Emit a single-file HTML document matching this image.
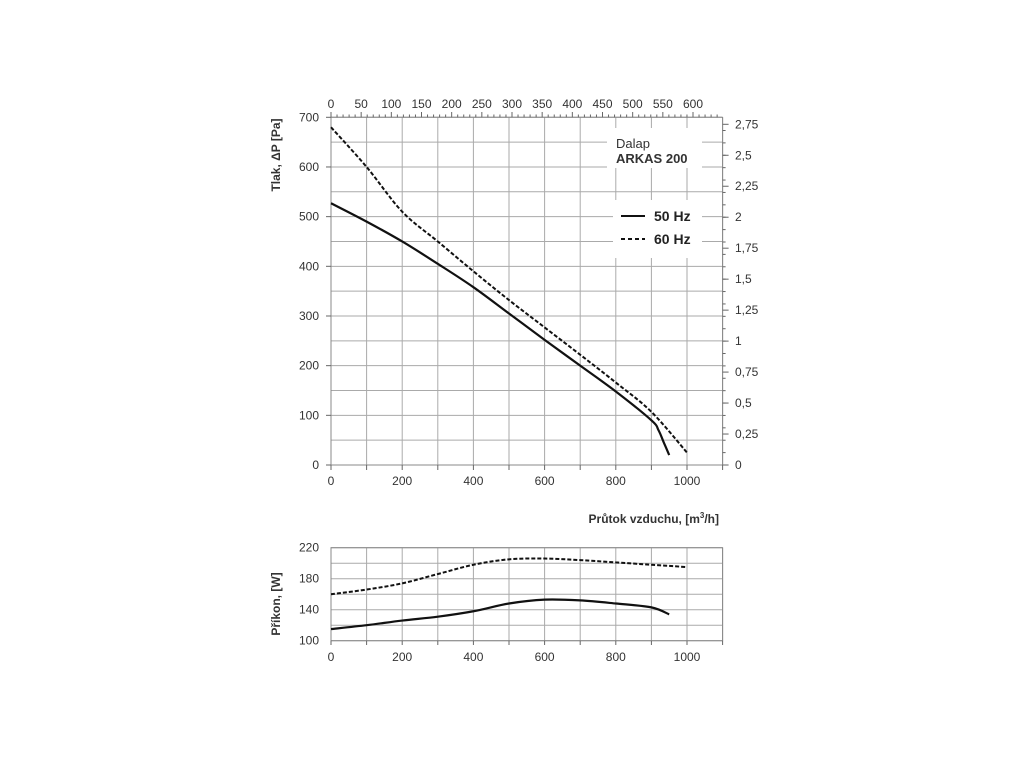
<!DOCTYPE html>
<html><head><meta charset="utf-8"><style>
body{margin:0;background:#fff;width:1024px;height:768px;overflow:hidden}
svg text{font-family:"Liberation Sans",Arial,sans-serif;fill:#333}
</style></head><body>
<svg id="c" width="1024" height="768" xmlns="http://www.w3.org/2000/svg"></svg>
<script>
const flow50 = [0,100,200,300,400,500,600,700,800,900,920,935,950];
const press50 = [527,490,450,405,358,305,252,200,148,90,70,45,20];
const flow60 = [0,100,200,300,400,500,600,700,800,900,1000];
const press60 = [680,600,510,450,390,332,277,222,166,107,25];
const pflow50 = [0,100,200,300,400,500,600,700,800,900,950];
const power50 = [115,120,126,131,138,148,153,152,148,143,134];
const pflow60 = [0,100,200,300,400,500,600,700,800,900,1000];
const power60 = [160,166,174,186,198,205,206,204,201,198,195];
const xTicks = [0,200,400,600,800,1000];
const pTicks = [0,100,200,300,400,500,600,700];
const topTicks = [0,50,100,150,200,250,300,350,400,450,500,550,600];
const rightTicks = ['0','0,25','0,5','0,75','1','1,25','1,5','1,75','2','2,25','2,5','2,75'];
const wTicks = [100,140,180,220];

const NS='http://www.w3.org/2000/svg';
const svg=document.getElementById('c');
function el(t,a,p){const e=document.createElementNS(NS,t);for(const k in a)e.setAttribute(k,a[k]);(p||svg).appendChild(e);return e;}
const X0=331,X1=722.6;
const x=v=>X0+v*(687-331)/1000;
const yP=v=>465-v*(465-117.3)/700;
const yW=v=>640.7-(v-100)*(640.7-547.7)/120;
const xTop=v=>331+v*(693-331)/600;
const yR=v=>465-v*(465-124.3)/2.75;

function path(xs,ys,fx,fy){
  const p=xs.map((v,i)=>[fx(v),fy(ys[i])]);
  let d='M'+p[0][0]+','+p[0][1];
  for(let i=0;i<p.length-1;i++){
    const p0=p[Math.max(0,i-1)],p1=p[i],p2=p[i+1],p3=p[Math.min(p.length-1,i+2)];
    const c1=[p1[0]+(p2[0]-p0[0])/6,p1[1]+(p2[1]-p0[1])/6];
    const c2=[p2[0]-(p3[0]-p1[0])/6,p2[1]-(p3[1]-p1[1])/6];
    d+=` C${c1[0]},${c1[1]} ${c2[0]},${c2[1]} ${p2[0]},${p2[1]}`;
  }
  return d;
}
// main grid
let g=el('g',{});


for(let v=0;v<=1100;v+=100){const l=el('line',{x1:x(v),x2:x(v),y1:117.3,y2:465,stroke:'#aaa','stroke-width':1},g);}
for(let v=0;v<=700;v+=50){el('line',{x1:X0,x2:X1,y1:yP(v),y2:yP(v),stroke:'#aaa','stroke-width':1},g);}
el('line',{x1:X0,x2:X0,y1:117,y2:465,stroke:'#888'});
el('line',{x1:X1,x2:X1,y1:117,y2:465,stroke:'#888'});
el('line',{x1:X0,x2:X1,y1:465,y2:465,stroke:'#888'});
el('line',{x1:X0,x2:X1,y1:117.3,y2:117.3,stroke:'#888'});
// top ticks
for(let v=0;v<=650;v+=10){if(xTop(v)>X1)break;el('line',{x1:xTop(v),x2:xTop(v),y1:117.3,y2:v%50?114.5:112,stroke:'#666'});}
topTicks.forEach(v=>{const t=el('text',{x:xTop(v),y:108,'font-size':12,'text-anchor':'middle'});t.textContent=v;

});
// right ticks
for(let i=0;i<=27;i++){const v=i*0.1;el('line',{x1:X1,x2:X1+3,y1:yR(v),y2:yR(v),stroke:'#666'});}
rightTicks.forEach((s,i)=>{const t=el('text',{x:735,y:yR(i*0.25)+4,'font-size':12});t.textContent=s;
el('line',{x1:X1,x2:X1+6,y1:yR(i*0.25),y2:yR(i*0.25),stroke:'#666'});

});
pTicks.forEach(v=>{const t=el('text',{x:319,y:yP(v)+4,'font-size':12,'text-anchor':'end'});t.textContent=v;
el('line',{x1:X0-5,x2:X0,y1:yP(v),y2:yP(v),stroke:'#666'});

});
xTicks.forEach(v=>{const t=el('text',{x:x(v),y:485,'font-size':12,'text-anchor':'middle'});t.textContent=v;

});
for(let v=0;v<=1100;v+=100)el('line',{x1:x(v),x2:x(v),y1:465,y2:470,stroke:'#666'});
// legend boxes
el('rect',{x:607,y:128,width:95,height:40,fill:'#fff'});
el('rect',{x:613,y:200,width:89,height:58,fill:'#fff'});
let t=el('text',{x:616,y:148,'font-size':13});t.textContent='Dalap';

t=el('text',{x:616,y:163,'font-size':13,'font-weight':'bold'});t.textContent='ARKAS 200';

el('line',{x1:621,x2:645,y1:216,y2:216,stroke:'#111','stroke-width':2});
t=el('text',{x:654,y:221,'font-size':14,'font-weight':'bold','style':'fill:#222'});t.textContent='50 Hz';

el('line',{x1:621,x2:645,y1:239,y2:239,stroke:'#111','stroke-width':2,'stroke-dasharray':'4,3'});
t=el('text',{x:654,y:244,'font-size':14,'font-weight':'bold','style':'fill:#222'});t.textContent='60 Hz';

// curves
let c=el('path',{d:path(flow50,press50,x,yP),fill:'none',stroke:'#111','stroke-width':2.2});

c=el('path',{d:path(flow60,press60,x,yP),fill:'none',stroke:'#111','stroke-width':2,'stroke-dasharray':'4,2'});

t=el('text',{transform:'translate(280,155) rotate(-90)','font-size':12,'font-weight':'bold','text-anchor':'middle'});t.textContent='Tlak, ΔP [Pa]';

t=el('text',{x:719,y:523,'font-size':12,'font-weight':'bold','text-anchor':'end'});t.innerHTML='Průtok vzduchu, [m<tspan font-size="8" dy="-5">3</tspan><tspan dy="5">/h]</tspan>';

// power chart
for(let v=0;v<=1100;v+=100)el('line',{x1:x(v),x2:x(v),y1:547.7,y2:640.7,stroke:'#aaa'});
for(let v=100;v<=220;v+=20)el('line',{x1:X0,x2:X1,y1:yW(v),y2:yW(v),stroke:'#aaa'});
el('rect',{x:X0,y:547.7,width:X1-X0,height:93,fill:'none',stroke:'#888'});
for(let v=0;v<=1100;v+=100)el('line',{x1:x(v),x2:x(v),y1:640.7,y2:645,stroke:'#666'});
wTicks.forEach(v=>{const t=el('text',{x:319,y:yW(v)+4,'font-size':12,'text-anchor':'end'});t.textContent=v;
});
xTicks.forEach(v=>{const t=el('text',{x:x(v),y:661,'font-size':12,'text-anchor':'middle'});t.textContent=v;
});
c=el('path',{d:path(pflow50,power50,x,yW),fill:'none',stroke:'#111','stroke-width':2.2});

c=el('path',{d:path(pflow60,power60,x,yW),fill:'none',stroke:'#111','stroke-width':2,'stroke-dasharray':'4,2'});

t=el('text',{transform:'translate(280,604) rotate(-90)','font-size':12,'font-weight':'bold','text-anchor':'middle'});t.textContent='Příkon, [W]';

</script>
</body></html>
